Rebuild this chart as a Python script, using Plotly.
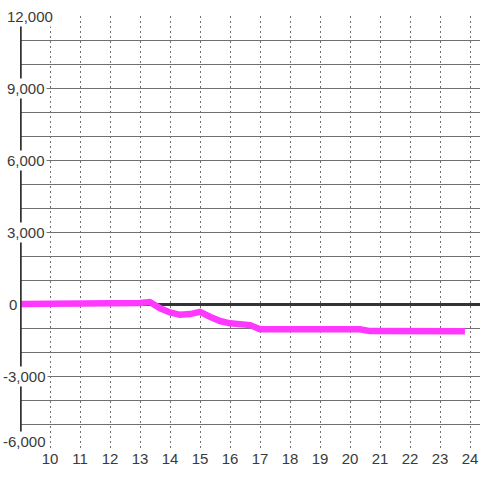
import plotly.graph_objects as go

# ------------------ Data ------------------
hours = [9.0, 12.67, 13.0, 13.33, 13.67, 14.0, 14.33, 14.67, 15.0, 15.33, 15.67,
         16.0, 16.33, 16.67, 17.0, 17.33, 18.0, 19.0, 20.0, 20.33, 20.67,
         21.0, 22.0, 23.0, 23.83]
values = [0, 0, 40, 80, -180, -350, -450, -420, -330, -530, -710,
          -805, -875, -880, -1050, -1060, -1060, -1055, -1050, -1050, -1130,
          -1135, -1140, -1140, -1140]

x_ticks = list(range(10, 25))
y_grid = list(range(-6000, 12001, 1000))
y_labels = list(range(-6000, 12001, 3000))

X_MIN, X_MAX = 9, 24.333
Y_MIN, Y_MAX = -6000, 12000
FONT = "Liberation Sans, Arial, sans-serif"
GRID = "#707070"
DARK = "#333333"
TEXT = "#3a3a3a"

fig = go.Figure()

fig.add_trace(go.Scatter(
    x=hours, y=values, mode="lines",
    line=dict(color="#ff38ff", width=6.5),
    hoverinfo="skip", showlegend=False,
))

# thick y axis line at the left edge
fig.add_shape(type="line", xref="x", yref="y",
              x0=X_MIN, x1=X_MIN, y0=Y_MIN, y1=Y_MAX,
              line=dict(color=DARK, width=3.5), layer="above")

# y tick labels sit on top of the axis line with a white box
for v in y_labels:
    if v < 0:
        left_px = 1
    elif v == 0:
        left_px = 7
    else:
        left_px = 5
    fig.add_annotation(
        xref="paper", yref="y", x=(left_px - 20) / 460, y=v,
        xanchor="left", yanchor="middle",
        yshift=7 if v == Y_MIN else 0,
        text=f"{v:,}", showarrow=False,
        font=dict(family=FONT, size=15, color=TEXT),
        bgcolor="white", borderpad=1,
    )

fig.update_layout(
    width=480, height=480,
    margin=dict(l=20, r=0, t=16, b=32),
    paper_bgcolor="white", plot_bgcolor="white",
    font=dict(family=FONT, size=15, color=TEXT),
    xaxis=dict(
        range=[X_MIN, X_MAX], tickvals=x_ticks,
        showgrid=True, gridcolor=GRID, gridwidth=1, griddash="2px,3px",
        zeroline=False, showline=False, ticks="",
        tickfont=dict(family=FONT, size=15, color=TEXT),
    ),
    yaxis=dict(
        range=[Y_MIN, Y_MAX], tickvals=y_grid, showticklabels=False,
        showgrid=True, gridcolor=GRID, gridwidth=1.2,
        zeroline=True, zerolinecolor=DARK, zerolinewidth=3,
        showline=False, ticks="",
    ),
)

# page body has a default 8px margin; drop it so the figure fills the window
fig.write_html("out.html", config={"displayModeBar": False},
               post_script="document.body.style.margin='0';")
